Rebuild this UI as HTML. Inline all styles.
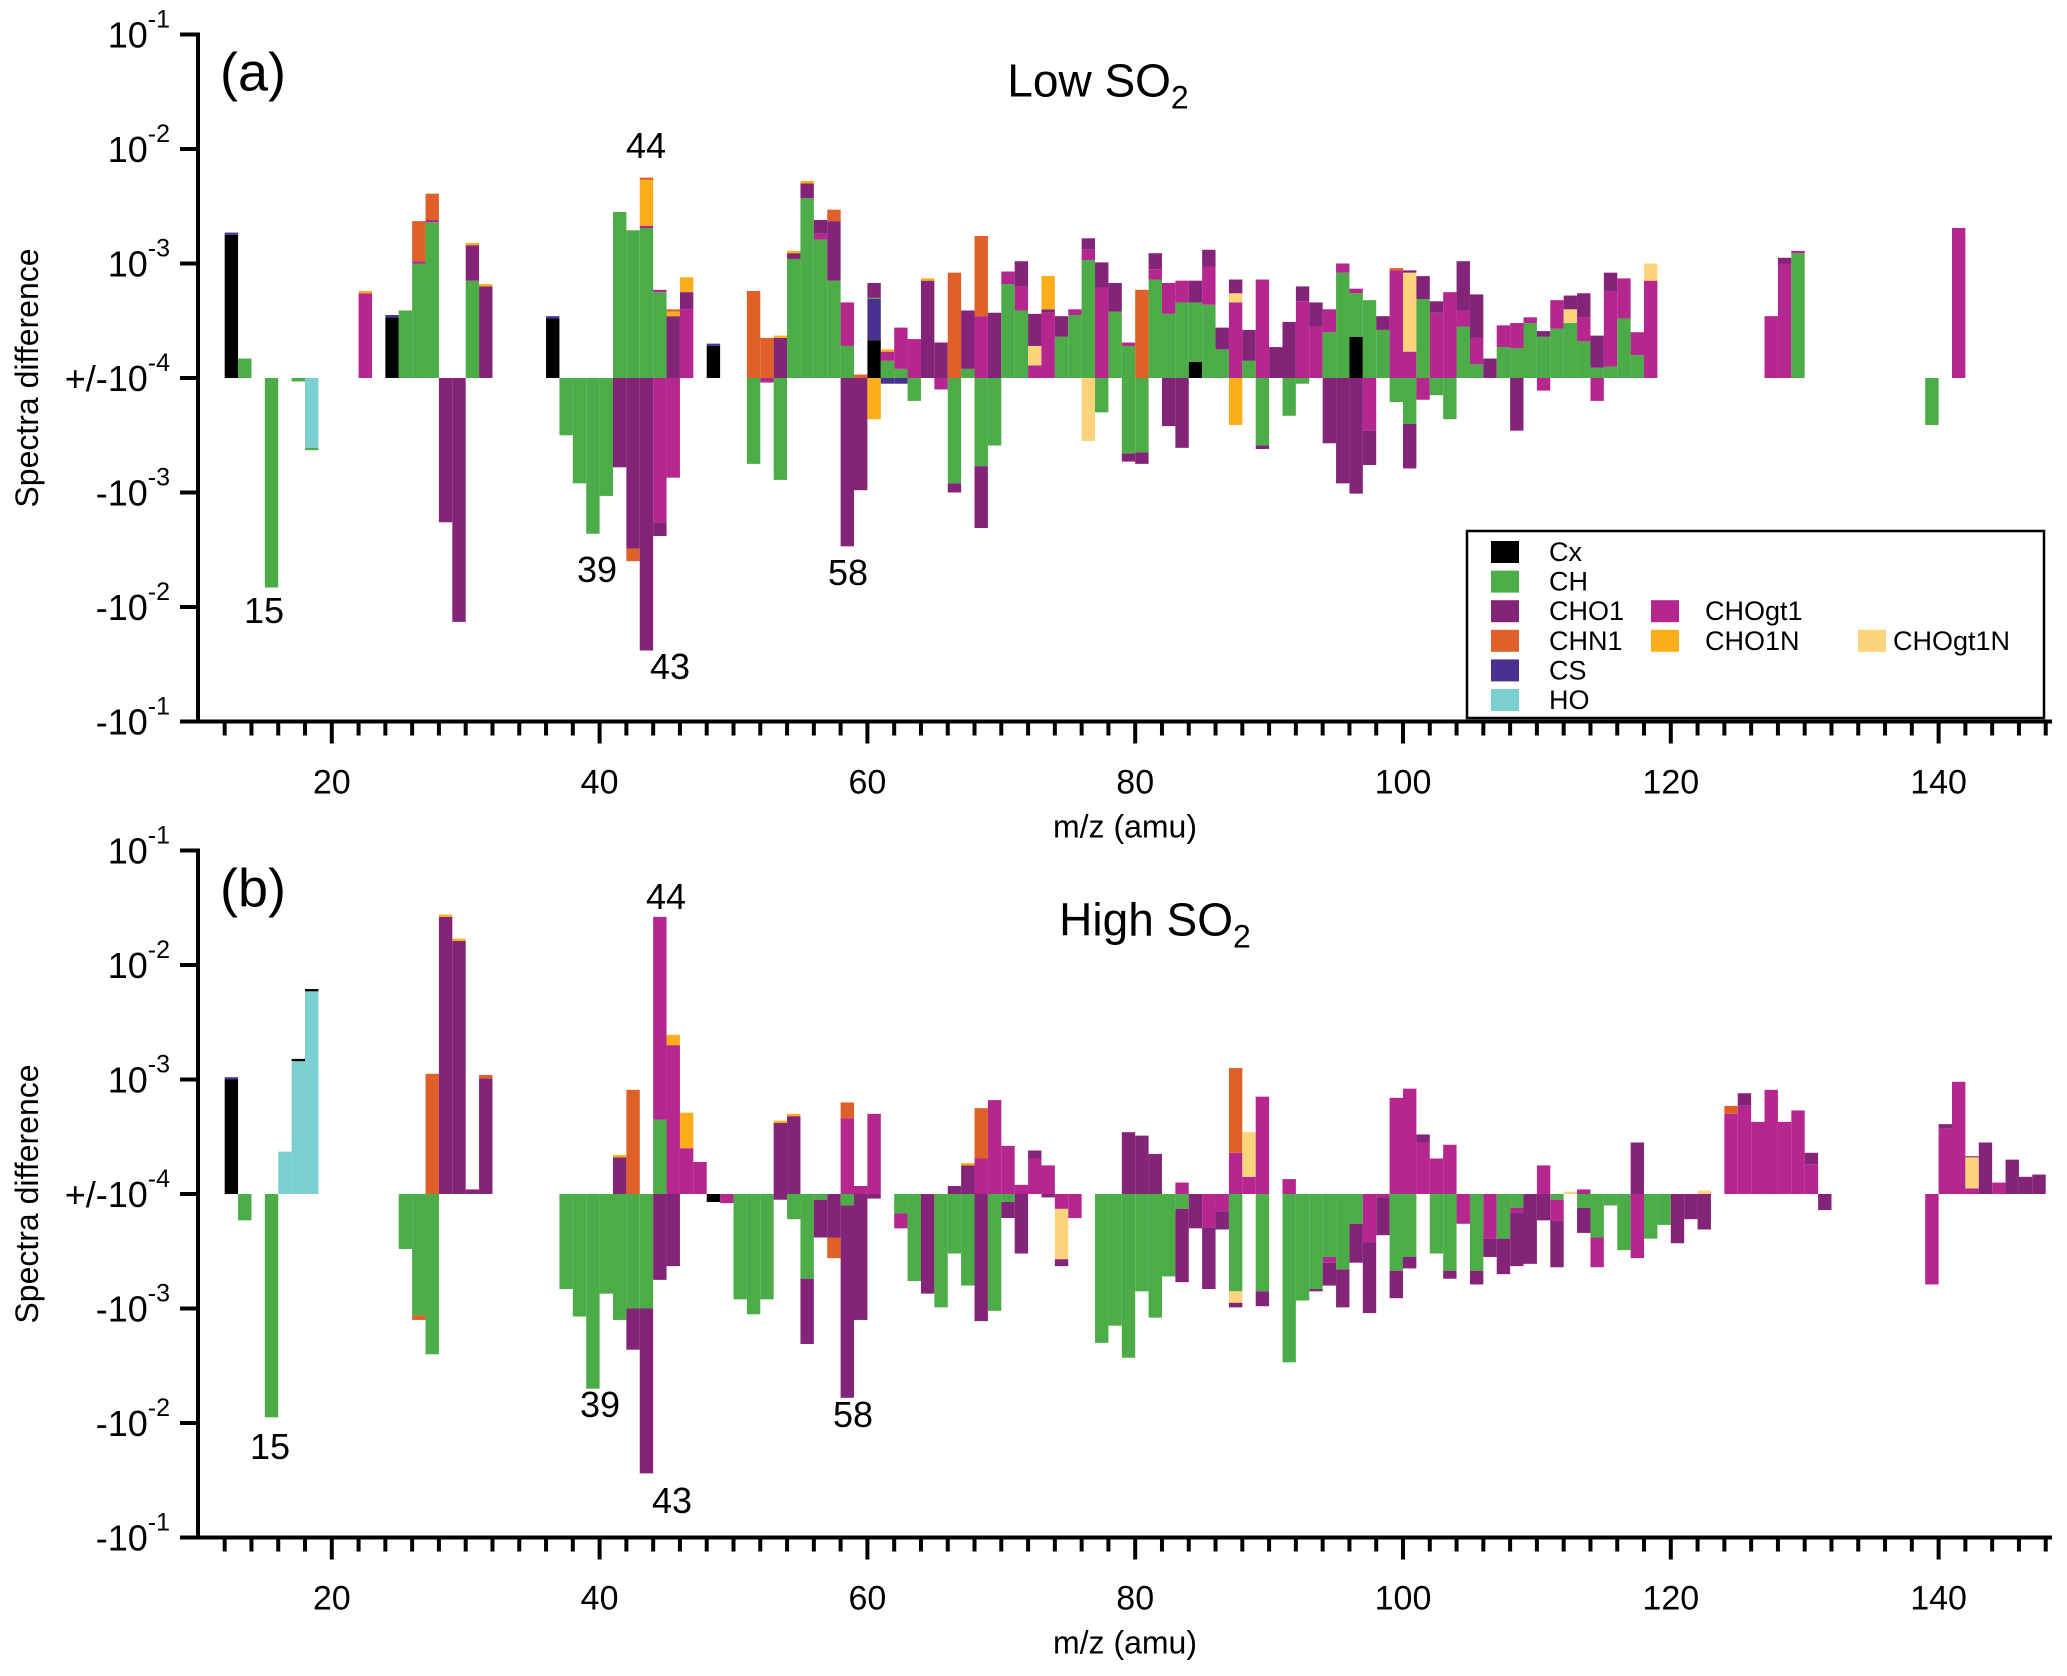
<!DOCTYPE html>
<html><head><meta charset="utf-8"><style>
html,body{margin:0;padding:0;background:#fff}
svg{display:block;font-family:"Liberation Sans",sans-serif}
</style></head><body>
<svg id="chart" width="2067" height="1676" viewBox="0 0 2067 1676" xmlns="http://www.w3.org/2000/svg"></svg>
<script>
// Each bar: m/z, positive stack and negative stack as [class, log10(|cumulative value|)]
const mzA = [12,13,15,17,18,22,24,25,26,27,28,29,30,31,36,37,38,39,40,41,42,43,44,45,46,48,51,52,53,54,55,56,57,58,59,60,61,62,63,64,65,66,67,68,69,70,71,72,73,74,75,76,77,78,79,80,81,82,83,84,85,86,87,88,89,90,91,92,93,94,95,96,97,98,99,100,101,102,103,104,105,106,107,108,109,110,111,112,113,114,115,116,117,118,127,128,129,139,141];
const posA = [
[["Cx",-2.75],["CS",-2.73]],[["CH",-3.83]],[],[],[],[["CHOgt1",-3.26],["CHO1N",-3.24]],[["Cx",-3.47],["CS",-3.45]],[["CH",-3.41]],
[["CH",-3.0],["CHOgt1",-2.98],["CHN1",-2.63]],[["CH",-2.64],["CHOgt1",-2.62],["CHN1",-2.39]],[],[],
[["CH",-3.15],["CHO1",-2.84],["CHO1N",-2.82]],[["CHO1",-3.2],["CHO1N",-3.18]],[["Cx",-3.48],["CS",-3.46]],[],[],[],[],
[["CH",-2.55]],[["CH",-2.71]],[["CH",-2.69],["CHOgt1",-2.67],["CHO1N",-2.27],["CHN1",-2.25]],[["CH",-3.25],["CHOgt1",-3.23]],
[["CHO1",-3.46],["CHO1N",-3.42],["CHN1",-3.40]],[["CHOgt1",-3.40],["CHO1",-3.25],["CHO1N",-3.12]],[["Cx",-3.72],["CS",-3.70]],
[["CHN1",-3.24]],[["CHN1",-3.65]],[["CHO1",-3.65],["CHO1N",-3.63]],[["CH",-2.96],["CHO1",-2.91],["CHO1N",-2.89]],
[["CH",-2.43],["CHO1",-2.30],["CHO1N",-2.28]],[["CH",-2.79],["CHOgt1",-2.74],["CHO1",-2.62]],[["CH",-3.15],["CHO1",-2.63],["CHN1",-2.53]],
[["CH",-3.72],["CHOgt1",-3.34]],[["CHN1",-3.97]],[["Cx",-3.67],["CS",-3.31],["CH",-3.30],["CHO1",-3.17]],
[["CH",-3.85],["CHOgt1",-3.77],["CHO1N",-3.75]],[["CH",-3.92],["CHOgt1",-3.56]],[["CHOgt1",-3.66]],[["CHO1",-3.15],["CHO1N",-3.13]],
[["CHO1",-3.69]],[["CHN1",-3.08]],[["CH",-3.92],["CHO1",-3.41]],[["CHOgt1",-3.46],["CHN1",-2.76]],[["CHO1",-3.43]],
[["CH",-3.18],["CHOgt1",-3.07]],[["CH",-3.41],["CHOgt1",-3.20],["CHO1",-2.98]],[["CHOgt1",-3.89],["CHOgt1N",-3.72],["CHO1",-3.44]],
[["CHOgt1",-3.43],["CHO1",-3.40],["CHO1N",-3.11]],[["CH",-3.64],["CHO1",-3.46]],[["CH",-3.45],["CHOgt1",-3.40]],
[["CH",-2.97],["CHOgt1",-2.88],["CHO1",-2.78]],[["CHOgt1",-3.21],["CHO1",-2.99]],[["CH",-3.42],["CHO1",-3.17]],[["CH",-3.72],["CHOgt1",-3.69]],
[["CHN1",-3.23]],[["CH",-3.14],["CHOgt1",-3.05],["CHO1",-2.91]],[["CH",-3.44],["CHOgt1",-3.17]],[["CH",-3.34],["CHOgt1",-3.15]],
[["Cx",-3.86],["CH",-3.34],["CHO1",-3.15]],[["CH",-3.36],["CHOgt1",-3.03],["CHO1",-2.88]],[["CH",-3.75],["CHO1",-3.56]],
[["CHOgt1",-3.34],["CHOgt1N",-3.26],["CHO1",-3.14]],[["CH",-3.85],["CHO1",-3.58]],[["CHOgt1",-3.14]],[["CHO1",-3.73]],
[["CHO1",-3.51]],[["CHOgt1",-3.33],["CHO1",-3.20]],[["CHOgt1",-3.55],["CHO1",-3.34]],[["CH",-3.60],["CHOgt1",-3.40]],
[["CH",-3.08],["CHOgt1",-3.00]],[["Cx",-3.64],["CH",-3.26],["CHOgt1",-3.22]],[["CH",-3.32]],[["CH",-3.58],["CHO1",-3.46]],
[["CHOgt1",-3.06],["CHN1",-3.04]],[["CHOgt1",-3.77],["CHOgt1N",-3.08],["CHO1",-3.06]],[["CH",-3.31],["CHO1",-3.11]],
[["CHOgt1",-3.43],["CHO1",-3.33]],[["CHOgt1",-3.25]],[["CH",-3.55],["CHOgt1",-3.41],["CHO1",-2.98]],
[["CH",-3.88],["CHOgt1",-3.65],["CHO1",-3.27]],[["CHO1",-3.83]],[["CH",-3.73],["CHOgt1",-3.54]],[["CH",-3.74],["CHOgt1",-3.52]],
[["CH",-3.52],["CHOgt1",-3.47]],[["CH",-3.64],["CHO1",-3.59]],[["CH",-3.57],["CHOgt1",-3.32]],[["CH",-3.52],["CHOgt1N",-3.40],["CHO1",-3.28]],
[["CH",-3.68],["CHOgt1",-3.47],["CHO1",-3.26]],[["CH",-3.91],["CHO1",-3.63]],[["CH",-3.90],["CHOgt1",-3.24],["CHO1",-3.08]],
[["CH",-3.48],["CHOgt1",-3.13]],[["CH",-3.80],["CHOgt1",-3.60]],[["CHOgt1",-3.15],["CHOgt1N",-3.0]],
[["CHOgt1",-3.46]],[["CHOgt1",-3.0],["CHO1",-2.95]],[["CH",-2.91],["CHOgt1",-2.89]],[],[["CHOgt1",-2.69]]
];
const negA = [
[],[],[["CH",-2.17]],[["CH",-3.97]],[["HO",-3.39],["CH",-3.37]],[],[],[],[],[],[["CHO1",-2.74]],[["CHO1",-1.87]],[],[],[],
[["CH",-3.5]],[["CH",-3.08]],[["CH",-2.64]],[["CH",-2.97]],[["CHO1",-3.22]],[["CHO1",-2.51],["CHN1",-2.40]],[["CHO1",-1.62]],
[["CHOgt1",-2.74],["CHO1",-2.62]],[["CHOgt1",-3.13]],[],[],[["CH",-3.25]],[["CHOgt1",-3.96]],[["CH",-3.11]],[],[],[],[],
[["CHO1",-2.53]],[["CHO1",-3.02]],[["CHO1N",-3.64]],[["CS",-3.95]],[["CS",-3.95]],[["CH",-3.80]],[],[["CHOgt1",-3.90]],
[["CH",-3.08],["CHO1",-3.0]],[],[["CH",-3.23],["CHO1",-2.69]],[["CH",-3.41]],[],[],[],[],[],[],[["CHOgt1N",-3.45]],[["CH",-3.70]],[],
[["CH",-3.34],["CHO1",-3.27]],
[["CH",-3.35],["CHO1",-3.25]],[],[["CHO1",-3.58]],[["CHO1",-3.39]],[],[],[],[["CHO1N",-3.59]],[],[["CH",-3.41],["CHO1",-3.38]],[],
[["CH",-3.67]],[["CH",-3.95]],[],[["CHO1",-3.43]],[["CHO1",-3.08]],[["CHO1",-2.99]],[["CHOgt1",-3.54],["CHO1",-3.24]],[],
[["CH",-3.79]],[["CH",-3.60],["CHO1",-3.21]],[["CHOgt1",-3.81]],[["CH",-3.85]],[["CH",-3.64]],[],[],[],[],[["CHO1",-3.54]],[],
[["CHOgt1",-3.89]],[],[],[],[["CHOgt1",-3.80]],[],[],[],[],[],[],[],[["CH",-3.59]],[]
];

const mzB = [12,13,15,16,17,18,25,26,27,28,29,30,31,37,38,39,40,41,42,43,44,45,46,47,48,49,50,51,52,53,54,55,56,57,58,59,60,62,63,64,65,66,67,68,69,70,71,72,73,74,75,77,78,79,80,81,82,83,84,85,86,87,88,89,91,92,93,94,95,96,97,98,99,100,101,102,103,104,105,106,107,108,109,110,111,112,113,114,115,116,117,118,119,120,121,122,124,125,126,127,128,129,130,131,139,140,141,142,143,144,145,146,147];
const posB = [
[["Cx",-3.0],["CS",-2.98]],[],[],[["HO",-3.63]],[["HO",-2.84],["Cx",-2.82]],[["HO",-2.23],["Cx",-2.21]],[],[],[["CHN1",-2.95]],
[["CHO1",-1.58],["CHO1N",-1.56]],[["CHO1",-1.79],["CHO1N",-1.77]],[["CHO1",-3.96]],[["CHO1",-2.99],["CHN1",-2.96]],[],[],[],[],
[["CHO1",-3.68],["CHO1N",-3.66]],[["CHN1",-3.09]],[],[["CH",-3.35],["CHOgt1",-1.58]],[["CHOgt1",-2.70],["CHO1N",-2.61]],
[["CHOgt1",-3.60],["CHO1N",-3.29]],[["CHOgt1",-3.72]],[],[],[],[],[],[["CHO1",-3.38],["CHO1N",-3.36]],[["CHO1",-3.32],["CHO1N",-3.30]],
[],[],[],[["CHOgt1",-3.34],["CHN1",-3.2]],[["CHOgt1",-3.93]],[["CHOgt1",-3.30]],[],[],[],[],[["CHO1",-3.93]],[["CHO1",-3.75],["CHO1N",-3.73]],
[["CHOgt1",-3.69],["CHN1",-3.25]],[["CHOgt1",-3.18]],[["CHOgt1",-3.58]],[["CHOgt1",-3.92]],[["CHOgt1",-3.69],["CHO1",-3.62]],[["CHOgt1",-3.75]],
[],[],[],[],[["CHO1",-3.46]],[["CHO1",-3.49]],[["CHO1",-3.65]],[],[["CHOgt1",-3.90]],[],[],[],[["CHOgt1",-3.64],["CHN1",-2.90]],
[["CHOgt1",-3.85],["CHOgt1N",-3.46]],[["CHOgt1",-3.15]],[["CHOgt1",-3.87]],[],[],[],[],[],[],[],[["CHOgt1",-3.16]],[["CHOgt1",-3.08]],
[["CHOgt1",-3.55],["CHO1",-3.48]],[["CHOgt1",-3.69]],[["CHOgt1",-3.57]],[],[],[],[],[],[],[["CHOgt1",-3.75]],[],[["CHOgt1N",-3.98]],
[["CHOgt1",-3.96]],[],[],[],[["CHO1",-3.55]],[],[],[],[],[["CHOgt1N",-3.97]],[["CHOgt1",-3.30],["CHN1",-3.23]],[["CHOgt1",-3.23],["CHO1",-3.12]],
[["CHOgt1",-3.37]],[["CHOgt1",-3.09]],[["CHOgt1",-3.37]],[["CHOgt1",-3.27]],[["CHOgt1",-3.74],["CHO1",-3.64]],[],[],
[["CHOgt1",-3.43],["CHO1",-3.39]],[["CHOgt1",-3.02]],[["CHOgt1",-3.95],["CHOgt1N",-3.68],["CHO1",-3.67]],[["CHO1",-3.55]],
[["CHOgt1",-3.90]],[["CHO1",-3.70]],[["CHO1",-3.85]],[["CHO1",-3.83]]
];
const negB = [
[],[["CH",-3.77]],[["CH",-2.05]],[],[],[],[["CH",-3.52]],[["CH",-2.94],["CHN1",-2.90]],[["CH",-2.60]],[],[],[],[],
[["CH",-3.17]],[["CH",-2.93]],[["CH",-2.30]],[["CH",-3.13]],[["CH",-2.9]],[["CH",-3.0],["CHO1",-2.64]],[["CH",-3.0],["CHO1",-1.56]],
[["CHO1",-3.25]],[["CHO1",-3.37]],[],[],[["Cx",-3.93]],[["CHOgt1",-3.92]],[["CH",-3.08]],[["CH",-2.95]],[["CH",-3.08]],[["CHO1",-3.95]],
[["CH",-3.78]],[["CH",-3.26],["CHO1",-2.69]],[["CH",-3.95],["CHO1",-3.62]],[["CHO1",-3.62],["CHN1",-3.44]],[["CH",-3.9],["CHO1",-2.22]],
[["CHO1",-2.90]],[["CHO1",-3.96]],[["CH",-3.83],["CHOgt1",-3.70]],[["CH",-3.24]],[["CHO1",-3.13]],[["CH",-3.01]],[["CH",-3.48]],
[["CH",-3.20]],[["CHO1",-2.89]],[["CH",-2.98]],[["CH",-3.93],["CHO1",-3.79]],[["CHO1",-3.48]],[],[["CHO1",-3.97]],
[["CHOgt1",-3.87],["CHOgt1N",-3.43],["CHO1",-3.37]],[["CHOgt1",-3.79]],[["CH",-2.70]],[["CH",-2.85]],[["CH",-2.57]],[["CH",-3.15]],
[["CH",-2.92]],[["CH",-3.28]],[["CH",-3.87],["CHO1",-3.23]],[["CHO1",-3.70]],[["CHOgt1",-3.71],["CHO1",-3.17]],[["CHOgt1",-3.85],["CHO1",-3.69]],
[["CH",-3.15],["CHOgt1N",-3.05],["CHO1",-3.01]],[],[["CH",-3.15],["CHO1",-3.02]],[["CH",-2.53]],[["CH",-3.07]],[["CH",-3.17],["CHO1",-3.15]],
[["CH",-3.45],["CHOgt1",-3.40],["CHO1",-3.20]],[["CH",-3.34],["CHO1",-3.01]],[["CH",-3.74],["CHO1",-3.40]],[["CHOgt1",-3.58],["CHO1",-2.96]],
[["CHOgt1",-3.97],["CHO1",-3.64]],[["CH",-3.33],["CHO1",-3.09]],[["CH",-3.45],["CHO1",-3.35]],[],[["CH",-3.48]],[["CH",-3.33],["CHO1",-3.26]],
[["CHOgt1",-3.74]],[["CH",-3.33],["CHO1",-3.21]],[["CHOgt1",-3.61],["CHO1",-3.45]],[["CH",-3.61],["CHO1",-3.30]],
[["CH",-3.88],["CHOgt1",-3.84],["CHO1",-3.37]],[["CHO1",-3.39]],[["CHO1",-3.77]],[["CH",-3.95],["CHOgt1",-3.77],["CHO1",-3.36]],[],
[["CH",-3.88],["CHO1",-3.66]],[["CH",-3.62],["CHOgt1",-3.36]],[["CH",-3.90]],[["CH",-3.51]],[["CHOgt1",-3.44]],[["CH",-3.61]],[["CH",-3.73]],
[["CHO1",-3.57]],[["CHO1",-3.78]],[["CHO1",-3.69]],[],[],[],[],[],[],[],[["CHO1",-3.86]],[["CHOgt1",-3.21]],[],[],[],[],[],[],[],[]
];

const classNames = ["Cx","CH","CHO1","CHN1","CS","HO","CHOgt1","CHO1N","CHOgt1N"];
const classColors = {Cx:"#000000",CH:"#4cac48",CHO1:"#842478",CHN1:"#e0602a",CS:"#4a3190",HO:"#7bcfd1",CHOgt1:"#b5268f",CHO1N:"#fbae19",CHOgt1N:"#fcd47c"};
const yTickExp = [-1,-2,-3,-4,-3,-2,-1];
const xTickLabels = [20,40,60,80,100,120,140];

const NS="http://www.w3.org/2000/svg";
const svg=document.getElementById('chart');
function el(tag,attrs,parent){const e=document.createElementNS(NS,tag);for(const k in attrs)e.setAttribute(k,attrs[k]);(parent||svg).appendChild(e);return e;}

const X0=64, PXU=13.39, DEC=114.5, AXL=198, AXR=2052;
function xScale(m){return X0+PXU*m;}

function drawPanel(p){
  const g=el('g',{});
  
  
  const zero=p.zero;
  const yScale=(e,s)=>zero - s*(e+4)*DEC;
  const bars=el('g',{},g);
  
  
  p.mz.forEach((m,i)=>{
    [[p.pos[i],1],[p.neg[i],-1]].forEach(([stack,s])=>{
      let prev=-4;
      stack.forEach(([cls,e])=>{
        const y1=yScale(prev,s), y2=yScale(e,s);
        const r=el('rect',{x:xScale(m).toFixed(2),y:Math.min(y1,y2).toFixed(2),width:PXU.toFixed(2),height:Math.max(0.8,Math.abs(y2-y1)).toFixed(2),fill:classColors[cls]},bars);
        
        
        prev=e;
      });
    });
  });
  const top=zero-3*DEC, bot=zero+3*DEC;
  const ya=el('line',{x1:AXL,y1:top-2,x2:AXL,y2:bot+2,stroke:'#000','stroke-width':4},g);
  
  
  const xa=el('line',{x1:AXL-2,y1:bot,x2:AXR,y2:bot,stroke:'#000','stroke-width':4},g);
  
  
  yTickExp.forEach((e,i)=>{
    const s=i<3?1:(i===3?0:-1);
    const y=zero-(i<3?1:-1)*(e+4)*DEC;
    el('line',{x1:AXL-18,y1:y,x2:AXL,y2:y,stroke:'#000','stroke-width':4},g);
    const t=el('text',{x:170,y:y+13,'text-anchor':'end','font-size':36},g);
    
    
    const pre = s===1?'10':(s===0?'+/-10':'-10');
    const t1=el('tspan',{},t); t1.textContent=pre;
    const t2=el('tspan',{'font-size':25,dy:-20},t); t2.textContent=String(e);
  });
  for(let m=12;m<=148;m+=2){
    const major=m%20===0;
    el('line',{x1:xScale(m),y1:bot,x2:xScale(m),y2:bot+(major?22:14),stroke:'#000','stroke-width':4},g);
  }
  xTickLabels.forEach(v=>{
    const t=el('text',{x:xScale(v),y:bot+72,'text-anchor':'middle','font-size':34},g);
    
    
    t.textContent=v;
  });
  const xt=el('text',{x:1125,y:bot+116,'text-anchor':'middle','font-size':32},g);
  
  
  xt.textContent='m/z (amu)';
  const yt=el('text',{x:0,y:0,'text-anchor':'middle','font-size':32,transform:`translate(38,${zero}) rotate(-90)`},g);
  
  
  yt.textContent='Spectra difference';
  const pl=el('text',{x:253,y:top+56,'text-anchor':'middle','font-size':54},g);
  
  
  pl.textContent=p.label;
  const tt=el('text',{x:p.titleX,y:top+p.titleDy,'text-anchor':'middle','font-size':46},g);
  
  
  const a1=el('tspan',{},tt); a1.textContent=p.title+' SO';
  const a2=el('tspan',{'font-size':32,dy:12},tt); a2.textContent='2';
  p.peaks.forEach(([txt,x,y])=>{
    const t=el('text',{x:x,y:y+13,'text-anchor':'middle','font-size':36},g);
    
    
    t.textContent=txt;
  });
}
drawPanel({name:'panel-a',zero:378,mz:mzA,pos:posA,neg:negA,label:'(a)',title:'Low',titleX:1098,titleDy:62,
  peaks:[['44',646,145],['39',597,569],['15',264,610],['43',670,666],['58',848,572]]});
drawPanel({name:'panel-b',zero:1194,mz:mzB,pos:posB,neg:negB,label:'(b)',title:'High',titleX:1155,titleDy:85,
  peaks:[['44',666,896],['39',600,1404],['15',270,1446],['43',672,1500],['58',853,1414]]});

const lg=el('g',{});


el('rect',{x:1467,y:531,width:577,height:187,fill:'#fff',stroke:'#000','stroke-width':2.5},lg);
const legPos={Cx:[0,0],CH:[0,1],CHO1:[0,2],CHN1:[0,3],CS:[0,4],HO:[0,5],CHOgt1:[1,2],CHO1N:[1,3],CHOgt1N:[2,3]};
const colSw=[1491,1651,1858], colTx=[1549,1705,1893];
classNames.forEach(c=>{
  const [col,row]=legPos[c];
  const y=552+row*29.6;
  const sw=el('rect',{x:colSw[col],y:y-11,width:28,height:22,fill:classColors[c]},lg);
  
  
  const t=el('text',{x:colTx[col],y:y+9,'font-size':27},lg);
  
  
  t.textContent=c;
});
</script>
</body></html>
